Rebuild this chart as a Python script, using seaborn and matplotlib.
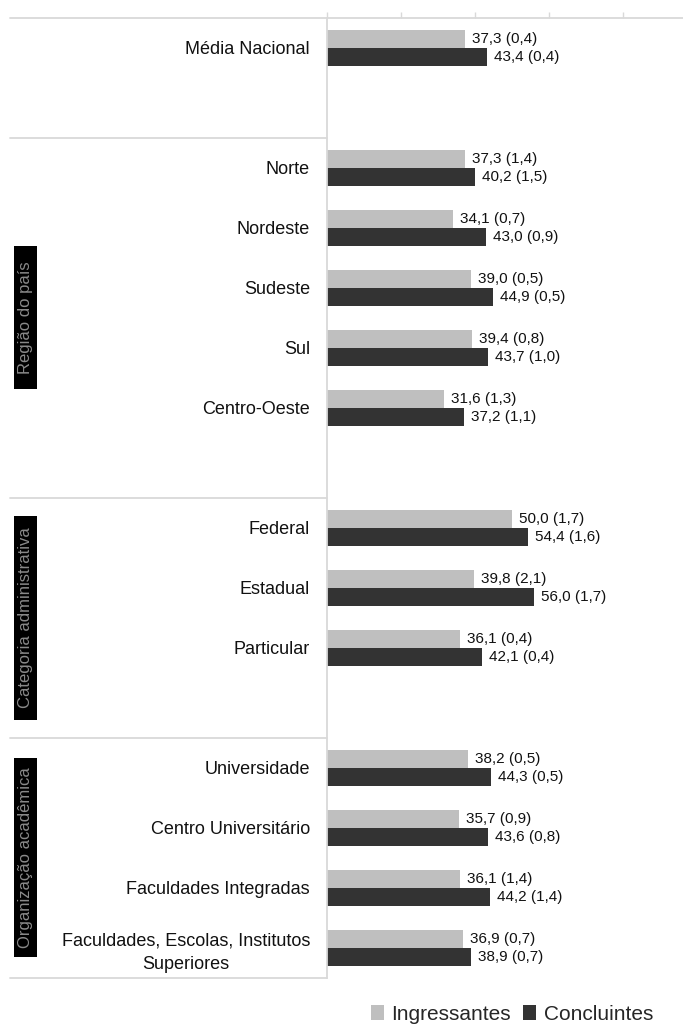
import matplotlib
matplotlib.use("Agg")
import matplotlib.pyplot as plt
import matplotlib.transforms as mtransforms
from matplotlib.patches import Rectangle, Patch
from matplotlib.lines import Line2D
import seaborn as sns
import pandas as pd

# ---------------- data ----------------
national = ["Média Nacional"]
regions = ["Norte", "Nordeste", "Sudeste", "Sul", "Centro-Oeste"]
admin = ["Federal", "Estadual", "Particular"]
academic = ["Universidade", "Centro Universitário", "Faculdades Integradas",
            "Faculdades, Escolas, Institutos\nSuperiores"]
categories = national + regions + admin + academic

ingressantes = [37.3, 37.3, 34.1, 39.0, 39.4, 31.6, 50.0, 39.8, 36.1, 38.2, 35.7, 36.1, 36.9]
ingressantes_se = [0.4, 1.4, 0.7, 0.5, 0.8, 1.3, 1.7, 2.1, 0.4, 0.5, 0.9, 1.4, 0.7]
concluintes = [43.4, 40.2, 43.0, 44.9, 43.7, 37.2, 54.4, 56.0, 42.1, 44.3, 43.6, 44.2, 38.9]
concluintes_se = [0.4, 1.5, 0.9, 0.5, 1.0, 1.1, 1.6, 1.7, 0.4, 0.5, 0.8, 1.4, 0.7]

series = ["Ingressantes", "Concluintes"]
group_names = ["Região do país", "Categoria administrativa", "Organização acadêmica"]
group_members = [regions, admin, academic]
x_ticks = [0, 20, 40, 60, 80]

# ---------------- frame ----------------
rows = []
for c, v, s in zip(categories, ingressantes, ingressantes_se):
    rows.append({"categoria": c, "serie": series[0], "valor": v, "ep": s})
for c, v, s in zip(categories, concluintes, concluintes_se):
    rows.append({"categoria": c, "serie": series[1], "valor": v, "ep": s})
df = pd.DataFrame(rows)

def fmt(v):
    return f"{v:.1f}".replace(".", ",")

label_map = {(r.categoria, r.serie): f"{fmt(r.valor)} ({fmt(r.ep)})" for r in df.itertuples()}

# slot order with blank spacer rows between groups
order = national + [" "] + regions + ["  "] + admin + ["   "] + academic

# ---------------- style ----------------
sns.set_style("white")
plt.rcParams["font.family"] = ["Liberation Sans", "DejaVu Sans"]

LINE = "#D9D9D9"
colors = {"Ingressantes": "#BFBFBF", "Concluintes": "#333333"}

W, H = 683, 1028
fig = plt.figure(figsize=(W / 100, H / 100), dpi=100)
ax_left = 326.7 / W
ax_top = 1 - 18 / H
ax_bottom = 1 - 977.7 / H
ax = fig.add_axes([ax_left, ax_bottom, 1 - ax_left, ax_top - ax_bottom])

sns.barplot(data=df, x="valor", y="categoria", hue="serie", order=order,
            hue_order=series, palette=colors, width=0.6, orient="h",
            errorbar=None, saturation=1, linewidth=0, legend=False, ax=ax)

ax.set_xlim(0, (W - 326.7) / 3.7)
ax.set_ylim(len(order) - 0.5, -0.5)
ax.set_xlabel("")
ax.set_ylabel("")

# axis styling
ax.xaxis.tick_top()
ax.set_xticks(x_ticks)
ax.tick_params(axis="x", which="both", length=4.5, width=1, color=LINE,
               labeltop=False, labelbottom=False, direction="out")
ax.tick_params(axis="y", length=0, pad=12, labelsize=13, labelcolor="#111111")
for lbl in ax.get_yticklabels():
    lbl.set_multialignment("center")
    lbl.set_linespacing(1.45)
for side in ["right", "bottom"]:
    ax.spines[side].set_visible(False)
for side in ["top", "left"]:
    ax.spines[side].set_color(LINE)
    ax.spines[side].set_linewidth(1.3)

# value labels
for cont, ser in zip(ax.containers, series):
    labels = []
    for bar in cont:
        idx = int(round(bar.get_y() + bar.get_height() / 2))
        labels.append(label_map.get((order[idx], ser), ""))
    ax.bar_label(cont, labels=labels, padding=5, fontsize=11, color="#111111")

# group separators and labels (left margin)
blend = mtransforms.blended_transform_factory(fig.transFigure, ax.transData)
x0 = 10 / W
fig.add_artist(Line2D([x0, ax_left], [-0.5, -0.5], transform=blend, color=LINE, lw=1.3))
box_px = [143, 204, 199]
for name, members, bpx in zip(group_names, group_members, box_px):
    first = order.index(members[0])
    last = order.index(members[-1])
    sep_y = first - 0.5
    fig.add_artist(Line2D([x0, ax_left], [sep_y, sep_y], transform=blend, color=LINE, lw=1.3))
    span_end = last + 1.5 if last + 1 < len(order) else last + 0.5
    center = (sep_y + span_end) / 2
    bh = bpx / 60.0
    fig.add_artist(Rectangle((14 / W, center - bh / 2), 23 / W, bh, transform=blend,
                             facecolor="black", edgecolor="none"))
    fig.text(25.5 / W, center, name, transform=blend, rotation=90, ha="center",
             va="center", fontsize=12, color="#8a8a8a")
fig.add_artist(Line2D([x0, ax_left], [len(order) - 0.5, len(order) - 0.5], transform=blend,
                      color=LINE, lw=1.3))

# legend
handles = [Patch(facecolor=colors[s], edgecolor="none") for s in series]
fig.legend(handles, series, loc="lower left", bbox_to_anchor=(371 / W, 0.004),
           frameon=False, ncol=2, fontsize=15, handlelength=0.62, handleheight=0.75,
           handletextpad=0.35, columnspacing=0.6, borderpad=0, borderaxespad=0)

fig.savefig("out.png", dpi=100)
